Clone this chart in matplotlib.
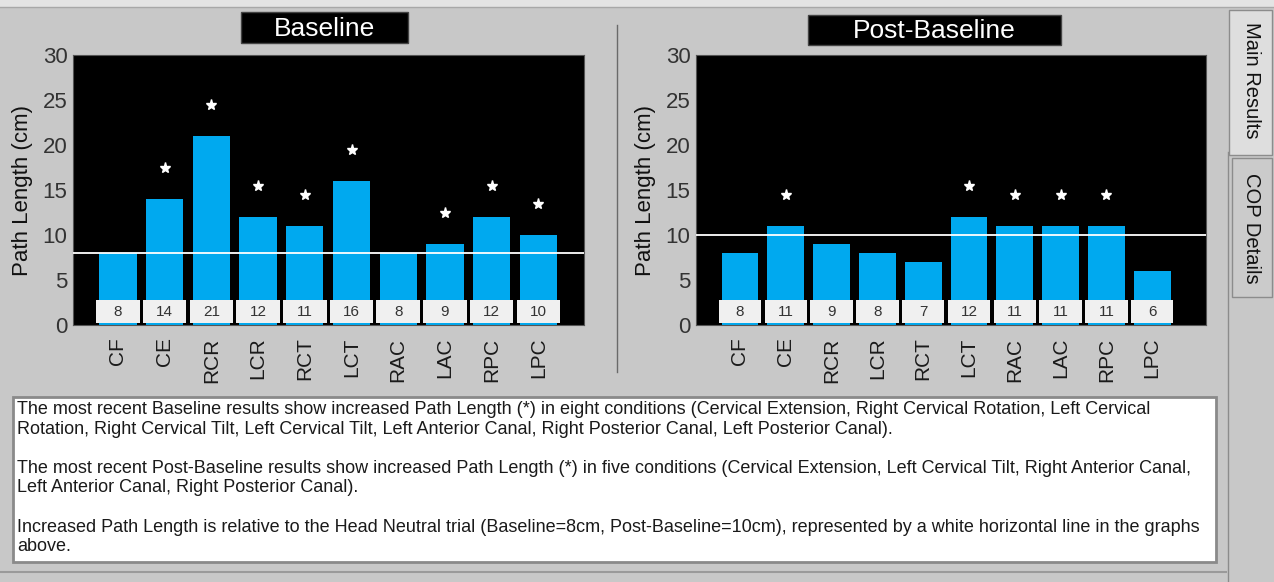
import numpy as np
import matplotlib
matplotlib.use('Agg')
import matplotlib.pyplot as plt
from matplotlib.patches import Rectangle

plt.rcParams['font.family'] = ['Liberation Sans', 'DejaVu Sans']

conditions = ['CF', 'CE', 'RCR', 'LCR', 'RCT', 'LCT', 'RAC', 'LAC', 'RPC', 'LPC']
baseline = [8, 14, 21, 12, 11, 16, 8, 9, 12, 10]
post_baseline = [8, 11, 9, 8, 7, 12, 11, 11, 11, 6]
baseline_flag = [0, 1, 1, 1, 1, 1, 0, 1, 1, 1]
post_flag = [0, 1, 0, 0, 0, 1, 1, 1, 1, 0]
baseline_ref = 8
post_ref = 10
yticks = [0, 5, 10, 15, 20, 25, 30]

summary = [
    "The most recent Baseline results show increased Path Length (*) in eight conditions (Cervical Extension, Right Cervical Rotation, Left Cervical",
    "Rotation, Right Cervical Tilt, Left Cervical Tilt, Left Anterior Canal, Right Posterior Canal, Left Posterior Canal).",
    "",
    "The most recent Post-Baseline results show increased Path Length (*) in five conditions (Cervical Extension, Left Cervical Tilt, Right Anterior Canal,",
    "Left Anterior Canal, Right Posterior Canal).",
    "",
    "Increased Path Length is relative to the Head Neutral trial (Baseline=8cm, Post-Baseline=10cm), represented by a white horizontal line in the graphs",
    "above.",
]

W, H = 1274, 582
BAR = '#00a9ef'
GRAY = '#c8c8c8'

fig = plt.figure(figsize=(W / 100, H / 100), dpi=100, facecolor=GRAY)

# background / window decorations drawn in pixel coordinates
bg = fig.add_axes([0, 0, 1, 1])
bg.set_xlim(0, W)
bg.set_ylim(H, 0)
bg.axis('off')
bg.add_patch(Rectangle((0, 0), W, 7, fc='#e4e4e4', ec='none'))
bg.plot([0, W], [7, 7], color='#a8a8a8', lw=1)
bg.plot([617, 617], [25, 372], color='#6a6a6a', lw=1)
bg.plot([1228, 1228], [152, H], color='#8c8c8c', lw=1)
bg.add_patch(Rectangle((1229, 10), 43, 145, fc='#dedede', ec='#8c8c8c', lw=1))
bg.add_patch(Rectangle((1232, 158), 40, 139, fc='#cbcbcb', ec='#8c8c8c', lw=1))
bg.text(1251, 80, 'Main Results', rotation=-90, ha='center', va='center', fontsize=14.5, color='#111')
bg.text(1252, 228, 'COP Details', rotation=-90, ha='center', va='center', fontsize=14.5, color='#111')
bg.add_patch(Rectangle((13, 397), 1203, 165, fc='white', ec='#8a8a8a', lw=2))
bg.plot([0, 1226], [572, 572], color='#9a9a9a', lw=1.5)
for k, line in enumerate(summary):
    bg.text(17, 410 + 19.5 * k, line, ha='left', va='center', fontsize=13, color='#1a1a1a')

panels = [
    ('Baseline', baseline, baseline_flag, baseline_ref, (73, 584), 118, 46.7, (241, 12, 167, 31)),
    ('Post-Baseline', post_baseline, post_flag, post_ref, (696, 1206), 740, 45.8, (808, 15, 253, 30)),
]

for title, values, flags, ref, (x0, x1), c0, step, tb in panels:
    ax = fig.add_axes([x0 / W, (H - 325) / H, (x1 - x0) / W, 270 / H])
    ax.set_facecolor('black')
    x = np.arange(len(conditions))
    ax.bar(x, values, width=0.8, color=BAR, zorder=2)
    ax.bar(x, 2.6, bottom=0.2, width=0.93, color='#f0f0f0', zorder=3)
    for i, v in enumerate(values):
        ax.text(i, 1.5, str(v), ha='center', va='center', fontsize=11, color='#333', zorder=4)
    fx = [i for i, f in enumerate(flags) if f]
    fy = [values[i] + 3.4 for i in fx]
    ax.plot(fx, fy, '*', color='white', markersize=8, linestyle='none', zorder=4)
    ax.axhline(ref, color='white', lw=1.3, zorder=3)
    ax.set_xlim(-(c0 - x0) / step, -(c0 - x0) / step + (x1 - x0) / step)
    ax.set_ylim(0, 30)
    ax.set_yticks(yticks)
    ax.set_xticks(x)
    ax.set_xticklabels(conditions, rotation=90, fontsize=15, color='#1a1a1a')
    ax.tick_params(axis='y', length=0, pad=4, labelsize=16, labelcolor='#333')
    ax.tick_params(axis='x', length=0, pad=9)
    for s in ax.spines.values():
        s.set_color('#555')
        s.set_linewidth(0.8)
    ax.set_ylabel('Path Length (cm)', fontsize=16, color='#111')
    ax.yaxis.set_label_coords(-0.078, 0.5)

    bx, by, bw, bh = tb
    bg.add_patch(Rectangle((bx, by), bw, bh, fc='black', ec='#444', lw=1))
    bg.text(bx + bw / 2, by + bh / 2 + 1, title, ha='center', va='center', fontsize=19, color='white')

fig.savefig('out.png', dpi=100, facecolor=GRAY)
